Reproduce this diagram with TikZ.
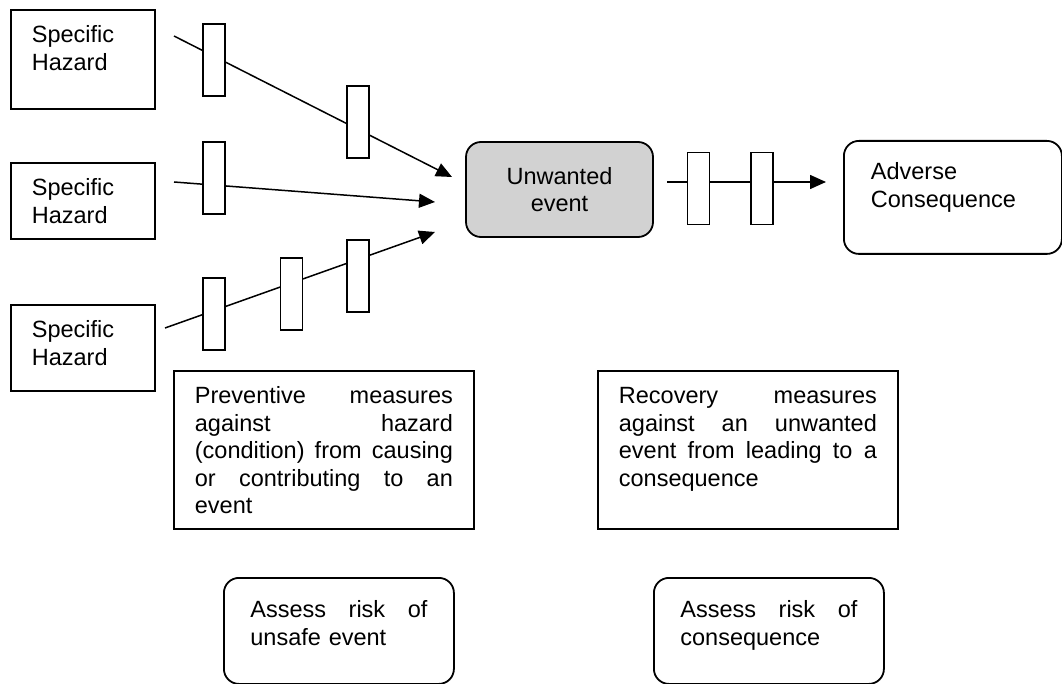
\documentclass[tikz,border=0pt]{standalone}
\usepackage{fontspec}
\setmainfont{Liberation Sans}
\usetikzlibrary{arrows.meta,positioning}
\setlength{\parindent}{0pt}

\begin{document}
\begin{tikzpicture}[x=1pt,y=-1pt,>={Triangle[length=16pt,width=14pt]},line width=1.8pt,
                    font=\fontsize{23.5}{27.5}\selectfont,
  hazard/.style={draw,rectangle,anchor=north west,text width=102pt,inner xsep=21pt,
                 inner ysep=16pt,text height=17pt,align=left},
  measures/.style={hazard,text width=258pt},
  assess/.style={draw,rounded corners=15pt,anchor=north west,text width=177pt,
                 inner xsep=26.5pt,inner ysep=23pt,text height=17pt,align=left},
  event/.style={draw,rounded corners=15pt,fill=gray!35,minimum width=187pt,
                minimum height=95pt,align=center},
  barrier/.style={draw,fill=white,minimum width=22pt,minimum height=72pt,inner sep=0pt},
  conn/.style={->,line width=1.5pt}]
  \useasboundingbox (0,0) rectangle (1062,684);

  % hazards
  \node[hazard,text depth=50pt] (h1) at (10,9)   {Specific\\Hazard};
  \node[hazard,text depth=27pt] (h2) at (10,162) {Specific\\Hazard};
  \node[hazard,text depth=37pt] (h3) at (10,304) {Specific\\Hazard};

  \node[event] (ue) at (559.5,189.5) {Unwanted\\event};
  \node[hazard,rounded corners=15pt,text width=164pt,inner xsep=27pt,inner ysep=22pt,
        text depth=52pt] (ac) at (843,140) {Adverse\\Consequence};

  % measures
  \node[measures,text depth=109pt] (pm) at (173,370)
    {Preventive\hfill measures\\ against\hfill hazard\\ (condition)\hfill from\hfill causing\\
     or\hfill contributing\hfill to\hfill an\\ event};
  \node[measures,text depth=109pt] (rm) at (597,370)
    {Recovery\hfill measures\\ against\hfill an\hfill unwanted\\
     event\hfill from\hfill leading\hfill to\hfill a\\ consequence};

  \node[assess,text depth=43pt] (ar1) at (223,577) {Assess\hfill risk\hfill of\\ unsafe event};
  \node[assess,text depth=43pt] (ar2) at (653,577) {Assess\hfill risk\hfill of\\ consequence};

  \coordinate (s1) at (174,36);  \coordinate (t1) at (452,177);
  \coordinate (s2) at (174,182); \coordinate (t2) at (435,202);
  \coordinate (s3) at (165,328); \coordinate (t3) at (435,232);
  \coordinate (s4) at (667,182); \coordinate (t4) at (826,182);

  \path (s1) edge[conn] (t1)
        (s2) edge[conn] (t2)
        (s3) edge[conn] (t3)
        (s4) edge[conn] (t4);

  % barriers on the lines
  \foreach \n/\x/\y in {b1/214/60,b2/358/122,b3/214/178,b4/214/314,
                        b5/291.5/294,b6/358/276,b7/698.5/188.5,b8/762/188.5}
    \node[barrier] (\n) at (\x,\y) {};

\end{tikzpicture}
\end{document}
